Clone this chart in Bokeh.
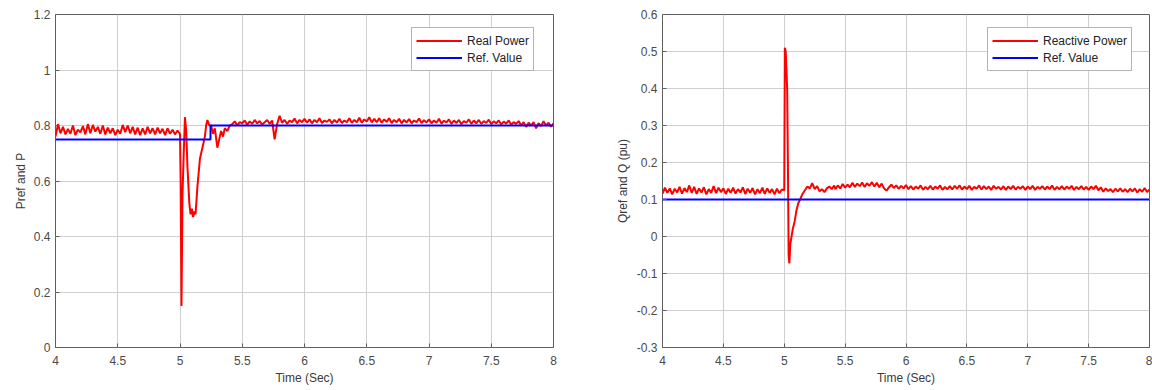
import numpy as np
from bokeh.plotting import figure
from bokeh.models import Range1d, FixedTicker, Legend, LegendItem
from bokeh.layouts import row
from bokeh.embed import file_html
from bokeh.resources import INLINE

# ---------------- data ----------------
x_ticks = [4, 4.5, 5, 5.5, 6, 6.5, 7, 7.5, 8]
x_tick_labels = ["4", "4.5", "5", "5.5", "6", "6.5", "7", "7.5", "8"]
p_ticks = [0, 0.2, 0.4, 0.6, 0.8, 1, 1.2]
p_tick_labels = ["0", "0.2", "0.4", "0.6", "0.8", "1", "1.2"]
q_ticks = [-0.3, -0.2, -0.1, 0, 0.1, 0.2, 0.3, 0.4, 0.5, 0.6]
q_tick_labels = ["-0.3", "-0.2", "-0.1", "0", "0.1", "0.2", "0.3", "0.4", "0.5", "0.6"]

# sample times of the steady parts (every 0.02 s)
t_pre = [round(4.0 + 0.02 * i, 3) for i in range(50)]     # 4.00 .. 4.98
t_post = [round(5.42 + 0.02 * i, 3) for i in range(130)]  # 5.42 .. 8.00

# Real power P
p_pre = [0.760, 0.805, 0.772, 0.795, 0.768, 0.788, 0.770, 0.800, 0.765, 0.785,
         0.775, 0.798, 0.768, 0.805, 0.772, 0.802, 0.778, 0.795, 0.770, 0.800,
         0.768, 0.792, 0.772, 0.790, 0.765, 0.785, 0.770, 0.802, 0.776, 0.800,
         0.772, 0.795, 0.768, 0.792, 0.765, 0.790, 0.768, 0.795, 0.772, 0.790,
         0.768, 0.792, 0.772, 0.788, 0.765, 0.790, 0.770, 0.785, 0.768, 0.782]
p_trans_t = [5.000, 5.005, 5.012, 5.020, 5.030, 5.040, 5.050, 5.060, 5.075, 5.085,
             5.095, 5.105, 5.115, 5.125, 5.140, 5.160, 5.180, 5.200, 5.210, 5.220,
             5.235, 5.250, 5.265, 5.280, 5.300, 5.315, 5.330, 5.345, 5.360, 5.380, 5.400]
p_trans = [0.770, 0.600, 0.150, 0.550, 0.700, 0.830, 0.780, 0.650, 0.520, 0.480,
           0.500, 0.470, 0.490, 0.480, 0.580, 0.680, 0.720, 0.760, 0.800, 0.820,
           0.800, 0.800, 0.770, 0.790, 0.720, 0.750, 0.780, 0.760, 0.790, 0.780, 0.800]
p_post = [0.805, 0.815, 0.800, 0.812, 0.808, 0.818, 0.803, 0.815, 0.806, 0.820,
          0.808, 0.816, 0.804, 0.812, 0.820, 0.806, 0.818, 0.750, 0.805, 0.835,
          0.810, 0.820, 0.806, 0.818, 0.812, 0.825, 0.808, 0.820, 0.812, 0.824,
          0.810, 0.822, 0.808, 0.820, 0.812, 0.826, 0.809, 0.818, 0.813, 0.822,
          0.808, 0.820, 0.811, 0.824, 0.809, 0.818, 0.812, 0.826, 0.810, 0.820,
          0.812, 0.828, 0.810, 0.822, 0.814, 0.830, 0.811, 0.824, 0.812, 0.826,
          0.810, 0.822, 0.813, 0.826, 0.809, 0.820, 0.812, 0.824, 0.808, 0.820,
          0.811, 0.823, 0.808, 0.818, 0.812, 0.825, 0.809, 0.819, 0.811, 0.822,
          0.808, 0.818, 0.810, 0.824, 0.807, 0.817, 0.811, 0.822, 0.806, 0.818,
          0.809, 0.820, 0.805, 0.816, 0.810, 0.822, 0.806, 0.818, 0.808, 0.820,
          0.806, 0.816, 0.809, 0.821, 0.805, 0.815, 0.808, 0.818, 0.804, 0.814,
          0.807, 0.818, 0.803, 0.812, 0.806, 0.816, 0.800, 0.812, 0.795, 0.810,
          0.800, 0.812, 0.790, 0.808, 0.798, 0.815, 0.800, 0.810, 0.796, 0.808]
p_ref_t = [4.0, 5.245, 5.245, 8.0]
p_ref = [0.75, 0.75, 0.80, 0.80]

# Reactive power Q
q_pre = [0.116, 0.132, 0.118, 0.130, 0.114, 0.129, 0.119, 0.134, 0.116, 0.131,
         0.120, 0.138, 0.118, 0.134, 0.115, 0.130, 0.119, 0.133, 0.114, 0.128,
         0.118, 0.136, 0.117, 0.132, 0.120, 0.130, 0.115, 0.129, 0.118, 0.132,
         0.116, 0.128, 0.119, 0.133, 0.115, 0.129, 0.118, 0.131, 0.114, 0.128,
         0.117, 0.132, 0.115, 0.130, 0.118, 0.128, 0.114, 0.129, 0.117, 0.127]
q_trans_t = [5.000, 5.005, 5.012, 5.018, 5.024, 5.030, 5.036, 5.042, 5.050, 5.060,
             5.070, 5.085, 5.100, 5.115, 5.130, 5.150, 5.170, 5.190, 5.210, 5.230,
             5.250, 5.270, 5.290, 5.310, 5.330, 5.350, 5.370, 5.390, 5.410]
q_trans = [0.125, 0.510, 0.500, 0.450, 0.400, 0.200, -0.050, -0.073, -0.020, 0.000,
           0.020, 0.040, 0.070, 0.090, 0.100, 0.115, 0.125, 0.135, 0.130, 0.144,
           0.128, 0.136, 0.122, 0.128, 0.120, 0.130, 0.135, 0.128, 0.138]
q_post = [0.128, 0.138, 0.130, 0.142, 0.132, 0.140, 0.133, 0.145, 0.134, 0.143,
          0.136, 0.146, 0.134, 0.144, 0.137, 0.147, 0.135, 0.145, 0.133, 0.143,
          0.130, 0.124, 0.133, 0.140, 0.131, 0.138, 0.129, 0.137, 0.130, 0.139,
          0.128, 0.136, 0.127, 0.135, 0.129, 0.138, 0.126, 0.134, 0.128, 0.137,
          0.127, 0.135, 0.129, 0.138, 0.126, 0.134, 0.128, 0.136, 0.127, 0.137,
          0.129, 0.138, 0.127, 0.135, 0.128, 0.137, 0.126, 0.134, 0.129, 0.138,
          0.127, 0.136, 0.128, 0.135, 0.126, 0.137, 0.129, 0.134, 0.127, 0.136,
          0.126, 0.135, 0.128, 0.137, 0.127, 0.134, 0.129, 0.136, 0.126, 0.135,
          0.128, 0.137, 0.126, 0.134, 0.129, 0.136, 0.127, 0.135, 0.128, 0.138,
          0.126, 0.134, 0.128, 0.136, 0.127, 0.135, 0.129, 0.137, 0.126, 0.134,
          0.128, 0.136, 0.127, 0.134, 0.126, 0.135, 0.128, 0.137, 0.125, 0.133,
          0.121, 0.130, 0.123, 0.128, 0.120, 0.129, 0.122, 0.130, 0.121, 0.128,
          0.120, 0.129, 0.122, 0.130, 0.119, 0.128, 0.121, 0.131, 0.120, 0.127]
q_ref_t = [4.0, 8.0]
q_ref = [0.1, 0.1]

p_time = t_pre + p_trans_t + t_post
p_vals = p_pre + p_trans + p_post
q_time = t_pre + q_trans_t + t_post
q_vals = q_pre + q_trans + q_post

# ---------------- styling helpers ----------------
FONT = "Liberation Sans"
RED = "#ff0000"
BLUE = "#0000ff"


def style(p, yticks, ylabels, ylab, lab_standoff):
    p.outline_line_color = "#5e5e5e"
    p.outline_line_width = 1
    p.background_fill_color = "white"
    p.border_fill_color = "white"
    for ax in (p.xaxis[0], p.yaxis[0]):
        ax.axis_line_color = None
        ax.major_tick_in = 4
        ax.major_tick_out = 0
        ax.minor_tick_line_color = None
        ax.major_tick_line_color = "#5e5e5e"
        ax.major_label_text_font = FONT
        ax.major_label_text_font_size = "12px"
        ax.major_label_text_color = "#4a4a4a"
        ax.axis_label_text_font = FONT
        ax.axis_label_text_font_size = "12px"
        ax.axis_label_text_font_style = "normal"
        ax.axis_label_text_color = "#3a3a3a"
    p.xaxis[0].ticker = FixedTicker(ticks=x_ticks)
    p.xaxis[0].major_label_overrides = dict(zip(x_ticks, x_tick_labels))
    p.xaxis[0].axis_label = "Time (Sec)"
    p.xaxis[0].major_label_standoff = 8
    p.xaxis[0].axis_label_standoff = 3
    p.yaxis[0].ticker = FixedTicker(ticks=yticks)
    p.yaxis[0].major_label_overrides = dict(zip(yticks, ylabels))
    p.yaxis[0].axis_label = ylab
    p.yaxis[0].major_label_standoff = 5
    p.yaxis[0].axis_label_standoff = lab_standoff
    for g in (p.xgrid[0], p.ygrid[0]):
        g.grid_line_color = "#cfcfcf"
        g.grid_line_width = 1


def add_legend(p, r1, r2, lab1, loc):
    leg = Legend(items=[LegendItem(label=lab1, renderers=[r1]),
                        LegendItem(label="Ref. Value", renderers=[r2])],
                 location=loc)
    leg.glyph_width = 46
    leg.glyph_height = 17
    leg.label_height = 17
    leg.label_standoff = 5
    leg.padding = 4
    leg.spacing = 0
    leg.margin = 0
    leg.border_line_color = "#6a6a6a"
    leg.border_line_width = 1
    leg.background_fill_color = "white"
    leg.background_fill_alpha = 1
    leg.label_text_font = FONT
    leg.label_text_font_size = "12px"
    leg.label_text_color = "#222222"
    p.add_layout(leg)


# ---------------- left panel ----------------
p1 = figure(width=600, height=390, output_backend="svg", toolbar_location=None,
            x_range=Range1d(4, 8), y_range=Range1d(0, 1.2),
            min_border_left=55, min_border_right=47, min_border_top=14, min_border_bottom=43)
r1a = p1.line(p_time, p_vals, line_color=RED, line_width=2)
r1b = p1.line(p_ref_t, p_ref, line_color=BLUE, line_width=2)
style(p1, p_ticks, p_tick_labels, "Pref and P", 3)
add_legend(p1, r1a, r1b, "Real Power", (356, 276))

# ---------------- right panel ----------------
p2 = figure(width=552, height=390, output_backend="svg", toolbar_location=None,
            x_range=Range1d(4, 8), y_range=Range1d(-0.3, 0.6),
            min_border_left=62, min_border_right=3, min_border_top=14, min_border_bottom=43)
r2a = p2.line(q_time, q_vals, line_color=RED, line_width=2)
r2b = p2.line(q_ref_t, q_ref, line_color=BLUE, line_width=2)
style(p2, q_ticks, q_tick_labels, "Qref and Q (pu)", 4)
add_legend(p2, r2a, r2b, "Reactive Power", (325, 276))

layout = row(p1, p2)
open("out.html", "w").write(file_html(layout, INLINE))
